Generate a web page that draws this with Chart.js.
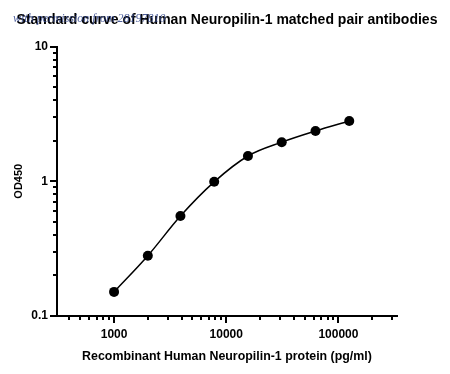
<!DOCTYPE html>
<html>
<head>
<meta charset="utf-8">
<script src="https://cdn.jsdelivr.net/npm/chart.js@4.4.1/dist/chart.umd.min.js"></script>
<style>
  html, body { margin: 0; padding: 0; background: #fff; }
  #chart { display: block; }
</style>
</head>
<body>
<canvas id="chart" width="450" height="374"></canvas>
<script>
// standard curve data
const concentrations = [1000, 2000, 3906, 7812, 15625, 31250, 62500, 125000];
const od450 = [0.151, 0.280, 0.552, 0.99, 1.54, 1.95, 2.36, 2.80];

// axis ticks (log scale, minor ticks unlabeled)
const xTicks = [400, 500, 600, 700, 800, 900, 1000,
  2000, 3000, 4000, 5000, 6000, 7000, 8000, 9000, 10000,
  20000, 30000, 40000, 50000, 60000, 70000, 80000, 90000, 100000,
  200000, 300000];
const yTicks = [0.1, 0.2, 0.3, 0.4, 0.5, 0.6, 0.7, 0.8, 0.9, 1,
  2, 3, 4, 5, 6, 7, 8, 9, 10];

const chartTitle = 'Standard curve of Human Neuropilin-1 matched pair antibodies';
const isDecade = v => Math.abs(Math.log10(v) - Math.round(Math.log10(v))) < 1e-9;
const FONT = "'Liberation Sans', Arial, sans-serif";

// tick marks: long for decades, short for the rest
const tickMarks = {
  id: 'tickMarks',
  afterDraw(chart) {
    const ctx = chart.ctx;
    const { x, y } = chart.scales;
    const area = chart.chartArea;
    ctx.save();
    ctx.strokeStyle = '#000';
    ctx.lineWidth = 2;
    ctx.beginPath();
    x.ticks.forEach(t => {
      const px = Math.round(x.getPixelForValue(t.value));
      const len = isDecade(t.value) ? 7 : 4;
      ctx.moveTo(px, area.bottom);
      ctx.lineTo(px, area.bottom + len);
    });
    y.ticks.forEach(t => {
      const py = Math.round(y.getPixelForValue(t.value));
      const len = isDecade(t.value) ? 7 : 4;
      ctx.moveTo(area.left, py);
      ctx.lineTo(area.left - len, py);
    });
    ctx.stroke();
    ctx.restore();
  }
};

// title centred over the plot, plus the watermark on top of it
const header = {
  id: 'header',
  afterDraw(chart) {
    const ctx = chart.ctx;
    const area = chart.chartArea;
    ctx.save();
    ctx.font = "bold 14px " + FONT;
    ctx.fillStyle = '#000';
    ctx.textAlign = 'center';
    ctx.textBaseline = 'middle';
    ctx.fillText(chartTitle, (area.left + area.right) / 2, 20);
    ctx.font = "italic 12px 'Liberation Serif', serif";
    ctx.fillStyle = 'rgba(50, 70, 140, 0.85)';
    ctx.textAlign = 'left';
    ctx.textBaseline = 'alphabetic';
    ctx.fillText('with permission from 28197810', 13, 22);
    ctx.restore();
  }
};

new Chart(document.getElementById('chart'), {
  type: 'line',
  data: {
    datasets: [{
      data: concentrations.map((c, i) => ({ x: c, y: od450[i] })),
      borderColor: '#000',
      borderWidth: 1.5,
      backgroundColor: '#000',
      pointRadius: 5,
      pointBackgroundColor: '#000',
      pointBorderWidth: 0,
      cubicInterpolationMode: 'monotone',
      fill: false
    }]
  },
  options: {
    responsive: false,
    devicePixelRatio: 1,
    animation: false,
    layout: { padding: { left: 0, right: 53, top: 46.5, bottom: 0 } },
    plugins: {
      legend: { display: false },
      tooltip: { enabled: false },
      title: { display: false }
    },
    scales: {
      x: {
        type: 'logarithmic',
        position: 'bottom',
        min: 310,
        max: 333000,
        afterBuildTicks: axis => { axis.ticks = xTicks.map(v => ({ value: v, major: isDecade(v) })); },
        afterFit: axis => { axis.height = 58; },
        grid: { display: false, drawTicks: false },
        border: { display: true, color: '#000', width: 2 },
        ticks: {
          autoSkip: false,
          maxRotation: 0,
          padding: 11,
          color: '#000',
          font: { family: FONT, size: 12, weight: 'bold' },
          callback: v => isDecade(v) ? String(Math.round(v)) : ''
        },
        title: {
          display: true,
          text: 'Recombinant Human Neuropilin-1 protein (pg/ml)',
          color: '#000',
          font: { family: FONT, size: 12.4, weight: 'bold' },
          padding: { top: 0, bottom: 10 }
        }
      },
      y: {
        type: 'logarithmic',
        position: 'left',
        min: 0.1,
        max: 10,
        afterBuildTicks: axis => { axis.ticks = yTicks.map(v => ({ value: v, major: isDecade(v) })); },
        afterFit: axis => { axis.width = 57; },
        grid: { display: false, drawTicks: false },
        border: { display: true, color: '#000', width: 2 },
        ticks: {
          autoSkip: false,
          padding: 9,
          color: '#000',
          font: { family: FONT, size: 12, weight: 'bold' },
          callback: v => isDecade(v) ? String(v) : ''
        },
        title: {
          display: true,
          text: 'OD450',
          color: '#000',
          font: { family: FONT, size: 11, weight: 'bold' },
          padding: { top: 12, bottom: 0 }
        }
      }
    }
  },
  plugins: [tickMarks, header]
});
</script>
</body>
</html>
